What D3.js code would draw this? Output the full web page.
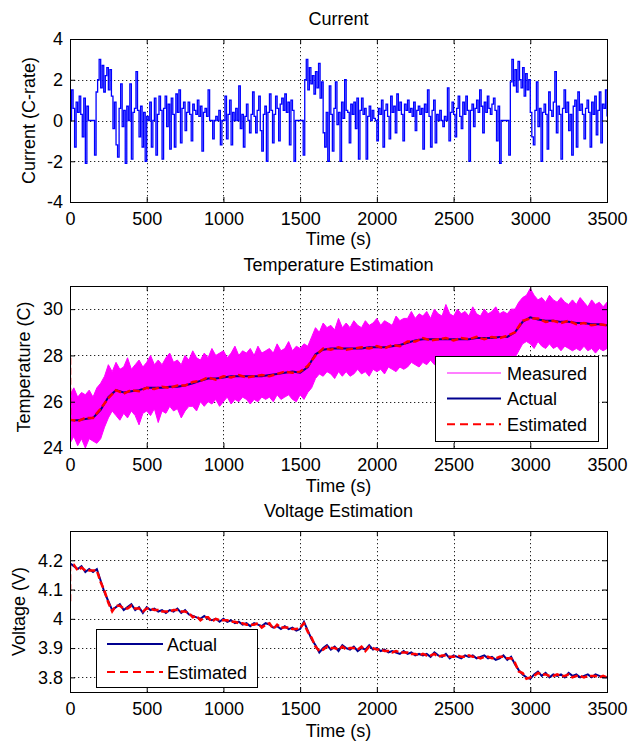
<!DOCTYPE html>
<html>
<head>
<meta charset="utf-8">
<script src="https://cdn.jsdelivr.net/npm/d3@7"></script>
<style>
  html, body { margin: 0; padding: 0; background: #fff; }
  svg { display: block; }
  text { font-family: "Liberation Sans", Arial, sans-serif; font-size: 18px; fill: #000; }
</style>
</head>
<body>
<svg id="chart" width="634" height="742"></svg>
<script>
// ---------- data ----------
const timeTicks = [0, 500, 1000, 1500, 2000, 2500, 3000, 3500];
const currentTicks = [-4, -2, 0, 2, 4];
const temperatureTicks = [24, 26, 28, 30];
const voltageTicks = [3.8, 3.9, 4.0, 4.1, 4.2];

// Current (C-rate), sampled every 10 s from 0 to 3500 s
const currentTime = d3.range(0, 3501, 10);
const currentValues = [
  0, 1.5, 0.6, -1.3, 0.9, 0.4, 1.2, 0.3, -0.8, 1.1,
  -2.1, 0.7, 0, 0, 0, 0, -1.7, 1.4, 2.0, 3.0,
  1.6, 2.7, 1.4, 2.2, 2.6, 1.5, 2.5, 1.2, -0.4, 0.9,
  -1.2, -1.8, 0.6, 1.8, -0.3, 0.5, -2.1, 0.7, 0, 1.8,
  -1.9, 0.4, 0.6, 2.4, 0.5, -0.8, 0.7, -1.3, 0.4, -2.0,
  0.2, 0, 0.9, -1.3, 0, 1.1, -1.7, 0.3, 1.2, 0.5,
  -1.9, 0.6, 1.2, -0.3, 0.8, -1.4, 1.1, 0.3, -1.3, 1.3,
  0.4, 1.5, -1.1, 0.6, 0.9, -0.5, 0.4, 0.9, 0.3, -1.0,
  0.8, 0.5, 0.3, 1.0, 0.2, 0.7, -1.5, 0.4, 0.6, 0.2,
  1.5, 0, 0, -0.9, 0, 0.2, 0, 0.5, -1.2, 0,
  0, 1.2, -0.9, 0.3, 1.0, -1.2, 0.4, 0, 0.6, 0,
  1.7, -0.4, 0.3, -1.3, 0.2, 0.8, 0, -0.6, 0.3, 1.4,
  0.2, -0.6, 0.5, 1.2, -0.5, -1.5, 0.3, 0.7, -2.0, 0.4,
  1.3, 0.5, -1.1, 0.3, 1.2, 0.6, -1.0, 0.8, 1.1, 0.5,
  1.3, 0.4, 0.9, -1.2, 1.0, 0.5, -2.0, 0, 0, 0,
  0, 0, -1.7, 2.0, 3.0, 1.5, 2.6, 1.8, 2.2, 1.3,
  2.4, 1.6, 2.8, 1.1, 1.9, -0.6, -1.3, 0.4, -2.0, 1.7,
  0.3, -1.5, 0.6, 1.9, -0.2, 0.4, -2.0, 0.9, 0.1, 2.0,
  0.5, 0.4, -1.1, 0.8, 0.3, 0.9, -0.4, 1.1, -1.9, 0.5,
  1.1, 0.3, 0.6, -1.9, 0.2, 0.7, 0, 0.5, 0.1, 0,
  -1.0, 0.6, 0.3, 1.0, -1.3, 0.5, 0.8, 0.2, -0.9, 1.2,
  0.4, 0.7, -0.6, 1.3, 0.5, 0.9, 0.3, -1.0, 0.8, 0.5,
  1.0, 0.4, 0.6, 0.2, 0.9, -0.5, 0.5, 0.7, 0.3, 0.6,
  -1.4, 0.8, 0.4, 1.5, 0.2, -1.3, 0.5, 1.0, -1.1, 0.3,
  0, 0.5, 0, -0.3, 0.2, 0, 1.6, -1.0, 0.4, 0.9,
  0.3, -0.8, 0.6, 1.2, 0.2, -0.4, 0.9, 0.3, 1.2, 0.5,
  -2.0, 0.5, 0.8, -0.3, 0.6, 1.0, 0.4, 1.5, 0.7, -0.6,
  0.9, 0.4, 1.2, 0.6, 0.3, 0.8, 1.1, 0.5, -1.0, 0.7,
  -2.1, 0, 0, 0, 0, 0, -1.7, 1.9, 3.0, 1.7,
  2.5, 1.4, 2.9, 2.0, 1.6, 2.6, 1.2, 2.3, 1.5, 2.0,
  0.4, -0.8, -1.2, 0.5, 1.9, -0.3, 0.6, -2.0, 0.4, 0.8,
  0.3, -1.4, 1.4, 0.5, 0.2, 0.9, 2.4, -0.6, 0.7, 0.3,
  -1.9, 0.6, 1.5, 0.4, 0.9, -0.5, 0.3, -1.7, 0.7, 1.0,
  -1.3, 1.4, 0.5, 0.8, 0.3, -0.9, 0.6, 1.0, 0.4, -1.3,
  0.9, 0.3, 1.2, -0.7, 0.5, 1.4, -1.1, 0.8, 0.6, 1.5,
  0.2
];

// Measured temperature envelope (upper / lower), every 25 s
const bandTime = d3.range(0, 3501, 25);
const measuredHigh = [
  26.3, 26.6, 26.2, 26.4,  26.3, 26.5, 26.2, 26.6,  26.8, 27.1, 27.6, 27.3,
  27.7, 27.4, 27.5, 27.9,  27.4, 27.6, 27.8, 27.5,  27.7, 28.0, 27.6, 27.8,
  27.6, 27.9, 28.1, 27.7,  27.8, 27.6, 28.0, 27.8,  28.2, 27.9, 27.8, 28.1,
  27.9, 28.3, 28.0, 28.1,  28.2, 27.9, 28.1, 28.4,  28.0, 28.2, 28.1, 28.3,
  28.0, 28.4, 28.1, 28.2,  28.3, 28.1, 28.5, 28.2,  28.3, 28.6, 28.2, 28.4,
  28.3, 28.5, 28.4, 28.8,  29.2, 29.0, 29.4, 29.2,  29.3, 29.1, 29.6, 29.2,
  29.4, 29.2, 29.5, 29.3,  29.2, 29.5, 29.3, 29.4,  29.6, 29.3, 29.5, 29.4,
  29.3, 29.7, 29.5, 29.6,  29.6, 29.9, 29.6, 29.8,  29.7, 29.9, 29.6, 30.0,
  29.8, 29.7, 30.2, 29.8,  29.7, 30.0, 29.8, 29.9,  29.7, 30.1, 29.8, 29.7,
  30.0, 29.8, 29.9, 30.1,  29.8, 29.9, 29.8, 30.0,  30.0, 30.3, 30.5, 30.6,
  30.9, 30.6, 30.4, 30.5,  30.3, 30.6, 30.4, 30.3,  30.5, 30.3, 30.2, 30.4,
  30.2, 30.5, 30.3, 30.1,  30.4, 30.2, 30.3, 30.1,
  30.3
];
const measuredLow = [
  24.2, 24.5, 24.1, 24.4,  24.0, 24.4, 24.3, 24.2,  24.4, 24.9, 25.3, 25.6,
  25.4, 25.2, 25.5, 25.3,  25.6, 25.4, 25.0, 25.5,  25.6, 25.4, 25.7, 25.1,
  25.6, 25.5, 25.8, 25.6,  25.7, 25.3, 25.6, 25.8,  25.8, 25.6, 26.0, 25.8,
  26.0, 25.9, 26.1, 25.8,  26.0, 26.2, 25.9, 26.1,  26.0, 26.2, 26.1, 25.9,
  26.1, 26.0, 26.2, 26.1,  26.2, 26.0, 26.3, 26.1,  26.2, 26.3, 26.1, 26.0,
  26.3, 26.1, 26.4, 26.6,  27.0, 27.2, 27.1, 27.3,  27.2, 27.0, 27.3, 27.1,
  27.3, 27.1, 27.2, 27.4,  27.2, 27.3, 27.1, 27.4,  27.3, 27.4, 27.2, 27.5,
  27.4, 27.3, 27.5, 27.4,  27.5, 27.7, 27.6, 27.5,  27.7, 27.6, 27.8, 27.6,
  27.7, 27.8, 27.6, 27.7,  27.8, 27.6, 27.7, 27.9,  27.7, 27.8, 27.6, 27.8,
  27.8, 27.7, 27.9, 27.7,  27.8, 27.9, 27.7, 27.9,  27.9, 28.2, 28.5, 28.6,
  28.5, 28.3, 28.6, 28.4,  28.3, 28.5, 28.3, 28.4,  28.2, 28.4, 28.3, 28.2,
  28.3, 28.2, 28.4, 28.2,  28.3, 28.1, 28.3, 28.2,
  28.3
];

// Actual and estimated temperature (C), every 50 s
const tempTime = d3.range(0, 3501, 50);
const tempActual = [
  25.2, 25.2, 25.25, 25.3, 25.65, 26.2, 26.5, 26.4, 26.45, 26.5,
  26.6, 26.6, 26.6, 26.65, 26.65, 26.7, 26.8, 26.9, 27.0, 27.0,
  27.05, 27.1, 27.1, 27.1, 27.1, 27.1, 27.15, 27.2, 27.25, 27.3,
  27.25, 27.5, 28.05, 28.25, 28.3, 28.3, 28.3, 28.3, 28.3, 28.35,
  28.35, 28.35, 28.4, 28.45, 28.55, 28.65, 28.7, 28.7, 28.7, 28.7,
  28.7, 28.7, 28.7, 28.75, 28.75, 28.75, 28.8, 28.8, 29.0, 29.45,
  29.65, 29.55, 29.5, 29.5, 29.45, 29.45, 29.4, 29.4, 29.35, 29.35,
  29.3
];
const tempEstimatedStart = 27.9;
const tempEstimated = [
  25.25, 25.15, 25.3, 25.3, 25.7, 26.15, 26.5, 26.35, 26.5, 26.45,
  26.6, 26.55, 26.65, 26.6, 26.7, 26.7, 26.85, 26.9, 27.05, 26.95,
  27.1, 27.05, 27.15, 27.05, 27.1, 27.15, 27.1, 27.2, 27.3, 27.25,
  27.3, 27.55, 28.0, 28.3, 28.25, 28.35, 28.25, 28.3, 28.35, 28.3,
  28.4, 28.3, 28.45, 28.4, 28.6, 28.6, 28.75, 28.65, 28.7, 28.75,
  28.65, 28.75, 28.7, 28.8, 28.7, 28.8, 28.75, 28.85, 29.0, 29.5,
  29.6, 29.6, 29.45, 29.5, 29.4, 29.5, 29.35, 29.4, 29.3, 29.35,
  29.3
];

// Actual and estimated terminal voltage (V), every 25 s
const voltTime = d3.range(0, 3501, 25);
const voltActual = [
  4.19, 4.18, 4.17, 4.18,  4.16, 4.17, 4.16, 4.17,  4.13, 4.09, 4.06, 4.03,
  4.04, 4.05, 4.03, 4.04,  4.05, 4.03, 4.04, 4.02,  4.04, 4.03, 4.035, 4.025,
  4.03, 4.02, 4.03, 4.025,  4.035, 4.02, 4.03, 4.015,  4.01, 4.005, 4.0, 4.01,
  4.0, 3.995, 4.0, 3.99,  4.0, 3.99, 3.995, 3.985,  3.99, 3.98, 3.985, 3.975,
  3.985, 3.98, 3.975, 3.985,  3.98, 3.97, 3.975, 3.965,  3.975, 3.965, 3.97, 3.96,
  3.965, 3.99, 3.96, 3.93,  3.91, 3.885, 3.9, 3.91,  3.895, 3.905, 3.89, 3.91,
  3.9, 3.895, 3.905, 3.89,  3.9, 3.895, 3.91, 3.895,  3.9, 3.89, 3.895, 3.885,
  3.89, 3.885, 3.88, 3.89,  3.88, 3.885, 3.875, 3.88,  3.875, 3.88, 3.87, 3.885,
  3.875, 3.87, 3.88, 3.865,  3.875, 3.87, 3.865, 3.875,  3.87, 3.875, 3.865, 3.87,
  3.875, 3.865, 3.87, 3.86,  3.865, 3.875, 3.86, 3.87,  3.845, 3.825, 3.81, 3.8,
  3.795, 3.81, 3.82, 3.805,  3.815, 3.8, 3.81, 3.805,  3.81, 3.8, 3.815, 3.805,
  3.81, 3.8, 3.805, 3.81,  3.8, 3.81, 3.805, 3.8,
  3.8
];
const voltEstimatedStart = 4.06;
const voltEstimated = [
  4.185, 4.185, 4.165, 4.175,  4.165, 4.165, 4.165, 4.165,  4.125, 4.095, 4.055, 4.025,
  4.045, 4.045, 4.035, 4.035,  4.045, 4.035, 4.035, 4.025,  4.035, 4.035, 4.03, 4.03,
  4.025, 4.025, 4.025, 4.03,  4.03, 4.025, 4.025, 4.02,  4.005, 4.01, 3.995, 4.005,
  4.005, 3.99, 4.0, 3.995,  3.995, 3.995, 3.99, 3.99,  3.985, 3.985, 3.98, 3.98,
  3.98, 3.985, 3.97, 3.98,  3.985, 3.965, 3.98, 3.97,  3.97, 3.97, 3.965, 3.965,
  3.97, 3.985, 3.955, 3.935,  3.905, 3.89, 3.895, 3.905,  3.9, 3.9, 3.895, 3.905,
  3.895, 3.9, 3.9, 3.895,  3.905, 3.89, 3.905, 3.9,  3.895, 3.895, 3.89, 3.89,
  3.885, 3.89, 3.885, 3.885,  3.885, 3.88, 3.88, 3.875,  3.88, 3.875, 3.875, 3.88,
  3.87, 3.875, 3.875, 3.87,  3.87, 3.875, 3.87, 3.87,  3.875, 3.87, 3.87, 3.865,
  3.87, 3.87, 3.865, 3.865,  3.87, 3.87, 3.865, 3.865,  3.85, 3.82, 3.815, 3.795,
  3.8, 3.805, 3.815, 3.81,  3.81, 3.805, 3.805, 3.81,  3.805, 3.805, 3.81, 3.8,
  3.805, 3.805, 3.8, 3.805,  3.805, 3.805, 3.8, 3.805,
  3.8
];

// ---------- layout ----------
const svg = d3.select("#chart");
const plotLeft = 70, plotRight = 607;
const tickLen = 5;
const num = d => String(+d.toFixed(2));

const colors = {
  current: "#0000ff",
  measured: "#ff00ff",
  actual: "#00008f",
  estimated: "#ff0000"
};

function makePanel(cfg) {
  const g = svg.append("g");
  const x = d3.scaleLinear().domain([0, 3500]).range([plotLeft, plotRight]);
  const y = d3.scaleLinear().domain(cfg.yDomain).range([cfg.bottom, cfg.top]);

  const clipId = "clip-" + cfg.id;
  svg.append("clipPath").attr("id", clipId)
    .append("rect")
    .attr("x", plotLeft).attr("y", cfg.top)
    .attr("width", plotRight - plotLeft).attr("height", cfg.bottom - cfg.top);

  // dotted grid
  const grid = g.append("g").attr("stroke", "#000").attr("stroke-width", 1)
    .attr("stroke-dasharray", "1.3,2.7").attr("opacity", 0.85);
  grid.selectAll("line.vx").data(timeTicks.filter(t => t > 0 && t < 3500)).join("line")
    .attr("x1", d => Math.round(x(d)) + 0.5).attr("x2", d => Math.round(x(d)) + 0.5)
    .attr("y1", cfg.top).attr("y2", cfg.bottom);
  grid.selectAll("line.hy").data(cfg.yTicks.filter(v => v > cfg.yDomain[0] && v < cfg.yDomain[1])).join("line")
    .attr("y1", d => Math.round(y(d)) + 0.5).attr("y2", d => Math.round(y(d)) + 0.5)
    .attr("x1", plotLeft).attr("x2", plotRight);

  const plot = g.append("g").attr("clip-path", `url(#${clipId})`);
  cfg.draw(plot, x, y);

  // axes with inward ticks on all four sides
  const axisFont = sel => sel.selectAll("text")
    .style("font-family", '"Liberation Sans", Arial, sans-serif')
    .style("font-size", "18px").attr("fill", "#000");
  const bottomAxis = g.append("g").attr("transform", `translate(0,${cfg.bottom})`)
    .call(d3.axisBottom(x).tickValues(timeTicks).tickSize(-tickLen).tickPadding(10).tickFormat(num));
  const leftAxis = g.append("g").attr("transform", `translate(${plotLeft},0)`)
    .call(d3.axisLeft(y).tickValues(cfg.yTicks).tickSize(-tickLen).tickPadding(7).tickFormat(num));
  const topAxis = g.append("g").attr("transform", `translate(0,${cfg.top})`)
    .call(d3.axisTop(x).tickValues(timeTicks).tickSize(-tickLen).tickFormat(""));
  const rightAxis = g.append("g").attr("transform", `translate(${plotRight},0)`)
    .call(d3.axisRight(y).tickValues(cfg.yTicks).tickSize(-tickLen).tickFormat(""));
  [bottomAxis, leftAxis, topAxis, rightAxis].forEach(a => {
    a.select(".domain").remove();
    a.selectAll("line").attr("stroke", "#000");
    axisFont(a);
  });

  g.append("rect")
    .attr("x", plotLeft + 0.5).attr("y", cfg.top + 0.5)
    .attr("width", plotRight - plotLeft).attr("height", cfg.bottom - cfg.top)
    .attr("fill", "none").attr("stroke", "#000").attr("stroke-width", 1);

  g.append("text").attr("x", (plotLeft + plotRight) / 2).attr("y", cfg.titleY)
    .attr("text-anchor", "middle").text(cfg.title);
  g.append("text").attr("x", (plotLeft + plotRight) / 2).attr("y", cfg.xLabelY)
    .attr("text-anchor", "middle").text("Time (s)");
  g.append("text")
    .attr("transform", `translate(${cfg.yLabelX},${(cfg.top + cfg.bottom) / 2}) rotate(-90)`)
    .attr("text-anchor", "middle").text(cfg.yLabel);

  if (cfg.legend) {
    const L = cfg.legend;
    const lg = g.append("g");
    lg.append("rect").attr("x", L.x + 0.5).attr("y", L.y + 0.5)
      .attr("width", L.w).attr("height", L.h)
      .attr("fill", "#fff").attr("stroke", "#000").attr("stroke-width", 1);
    L.items.forEach((it, i) => {
      const cy = L.y + L.firstRow + i * L.rowGap;
      lg.append("line").attr("x1", L.x + L.lineX0).attr("x2", L.x + L.lineX1)
        .attr("y1", cy).attr("y2", cy)
        .attr("stroke", it.color).attr("stroke-width", it.width)
        .attr("stroke-dasharray", it.dash || null);
      lg.append("text").attr("x", L.x + L.textX).attr("y", cy + 6.5).text(it.label);
    });
  }
  return { x, y };
}

const pts = (ts, vs) => ts.map((t, i) => [t, vs[i]]);

// Panel 1: current
makePanel({
  id: "current", top: 39, bottom: 202, yDomain: [-4, 4], yTicks: currentTicks,
  title: "Current", titleY: 25, xLabelY: 245, yLabel: "Current (C-rate)", yLabelX: 35,
  draw(plot, x, y) {
    plot.append("path").datum(pts(currentTime, currentValues))
      .attr("fill", "none").attr("stroke", colors.current).attr("stroke-width", 1.3)
      .attr("d", d3.line().curve(d3.curveStepAfter).x(d => x(d[0])).y(d => y(d[1])));
  }
});

// Panel 2: temperature estimation
makePanel({
  id: "temperature", top: 286, bottom: 448, yDomain: [24, 31], yTicks: temperatureTicks,
  title: "Temperature Estimation", titleY: 271, xLabelY: 492, yLabel: "Temperature (C)", yLabelX: 30,
  draw(plot, x, y) {
    const band = bandTime.map((t, i) => ({ t, hi: measuredHigh[i], lo: measuredLow[i] }));
    plot.append("path").datum(band)
      .attr("fill", colors.measured).attr("stroke", colors.measured).attr("stroke-width", 1)
      .attr("d", d3.area().x(d => x(d.t)).y0(d => y(d.lo)).y1(d => y(d.hi)));
    const line = d3.line().x(d => x(d[0])).y(d => y(d[1]));
    plot.append("path").datum(pts(tempTime, tempActual))
      .attr("fill", "none").attr("stroke", colors.actual).attr("stroke-width", 2).attr("d", line);
    plot.append("path").datum([[0, tempEstimatedStart], ...pts(tempTime, tempEstimated)])
      .attr("fill", "none").attr("stroke", colors.estimated).attr("stroke-width", 2.5)
      .attr("stroke-dasharray", "7,3").attr("d", line);
  },
  legend: {
    x: 435, y: 356, w: 163, h: 85, firstRow: 17, rowGap: 25.6,
    lineX0: 12, lineX1: 66, textX: 72,
    items: [
      { label: "Measured", color: colors.measured, width: 1.2 },
      { label: "Actual", color: colors.actual, width: 2 },
      { label: "Estimated", color: colors.estimated, width: 2, dash: "8,5" }
    ]
  }
});

// Panel 3: voltage estimation
makePanel({
  id: "voltage", top: 531, bottom: 692, yDomain: [3.75, 4.3], yTicks: voltageTicks,
  title: "Voltage Estimation", titleY: 517, xLabelY: 737, yLabel: "Voltage (V)", yLabelX: 25,
  draw(plot, x, y) {
    const line = d3.line().x(d => x(d[0])).y(d => y(d[1]));
    plot.append("path").datum(pts(voltTime, voltActual))
      .attr("fill", "none").attr("stroke", colors.actual).attr("stroke-width", 2).attr("d", line);
    plot.append("path").datum([[0, voltEstimatedStart], ...pts(voltTime, voltEstimated)])
      .attr("fill", "none").attr("stroke", colors.estimated).attr("stroke-width", 2.5)
      .attr("stroke-dasharray", "7,3").attr("d", line);
  },
  legend: {
    x: 96, y: 629, w: 161, h: 58, firstRow: 15, rowGap: 28,
    lineX0: 11, lineX1: 67, textX: 71,
    items: [
      { label: "Actual", color: colors.actual, width: 2 },
      { label: "Estimated", color: colors.estimated, width: 2, dash: "8,5" }
    ]
  }
});
</script>
</body>
</html>
